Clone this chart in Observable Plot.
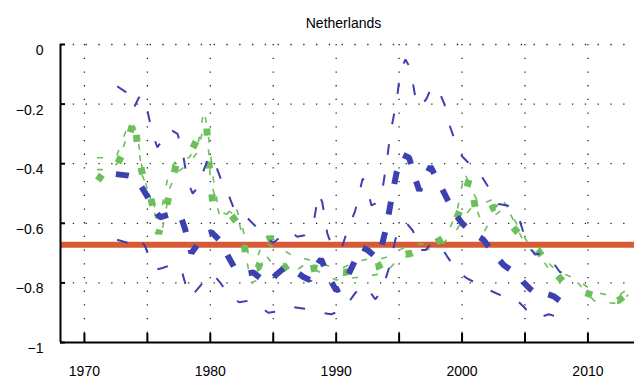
<!DOCTYPE html>
<html>
<head>
<meta charset="utf-8">
<script src="https://cdn.jsdelivr.net/npm/d3@7"></script>
<script src="https://cdn.jsdelivr.net/npm/@observablehq/plot@0.6"></script>
<style>
  html, body { margin: 0; padding: 0; background: #fff; }
  #chart svg { display: block; }
</style>
</head>
<body>
<div id="chart"></div>
<script>
// Axis set-up
const xDomain = [1968.1, 2013.7];
const yDomain = [-1, 0];
const xTicks = [1970, 1975, 1980, 1985, 1990, 1995, 2000, 2005, 2010];
const xLabelTicks = [1970, 1980, 1990, 2000, 2010];
const xTickLabels = ["1970", "1980", "1990", "2000", "2010"];
const yTicks = [-1, -0.8, -0.6, -0.4, -0.2, 0];
const yTickLabels = ["\u22121", "\u22120.8", "\u22120.6", "\u22120.4", "\u22120.2", "0"];
const yGrid = [-0.8, -0.6, -0.4, -0.2, 0];
const title = "Netherlands";

// Reference level
const refLevel = -0.672;

// Blue estimate: central path and its upper / lower band
const blueMidYears = [1972.5, 1973.5, 1974.0, 1974.5, 1975.0, 1975.5, 1976.0, 1976.8, 1977.6, 1978.0, 1978.5, 1979.0, 1979.6, 1980.1, 1980.8, 1981.4, 1982.0, 1982.6, 1983.4, 1984.0, 1984.6, 1985.3, 1986.0, 1986.7, 1987.4, 1987.9, 1988.4, 1988.8, 1989.4, 1990.0, 1990.5, 1991.0, 1991.5, 1992.0, 1992.5, 1993.2, 1993.6, 1994.0, 1994.4, 1994.8, 1995.3, 1995.8, 1996.2, 1996.6, 1997.0, 1997.5, 1998.0, 1998.6, 1999.3, 2000.0, 2000.8, 2001.7, 2002.5, 2003.3, 2004.0, 2004.7, 2005.4, 2006.0, 2006.6, 2007.3, 2008.2];
const blueMid = [-0.435, -0.44, -0.445, -0.475, -0.51, -0.55, -0.58, -0.57, -0.57, -0.62, -0.70, -0.67, -0.635, -0.63, -0.66, -0.71, -0.755, -0.77, -0.765, -0.785, -0.80, -0.77, -0.745, -0.76, -0.78, -0.79, -0.745, -0.72, -0.78, -0.825, -0.815, -0.77, -0.725, -0.68, -0.69, -0.715, -0.68, -0.61, -0.515, -0.43, -0.37, -0.38, -0.44, -0.49, -0.45, -0.41, -0.45, -0.50, -0.56, -0.60, -0.63, -0.655, -0.70, -0.74, -0.76, -0.79, -0.82, -0.84, -0.835, -0.845, -0.875];

const blueHiYears = [1972.6, 1973.3, 1973.9, 1974.3, 1974.6, 1975.0, 1975.4, 1975.8, 1976.2, 1976.5, 1977.0, 1977.4, 1977.8, 1978.2, 1978.6, 1979.0, 1979.4, 1979.9, 1980.3, 1981.0, 1981.5, 1982.0, 1983.0, 1983.6, 1984.3, 1985.0, 1985.6, 1986.3, 1986.9, 1987.5, 1988.2, 1988.6, 1988.9, 1989.3, 1989.8, 1990.5, 1991.0, 1991.5, 1992.1, 1992.4, 1992.8, 1993.3, 1993.7, 1994.0, 1994.3, 1994.8, 1995.1, 1995.5, 1995.9, 1996.3, 1996.7, 1997.2, 1997.6, 1998.2, 1998.6, 1999.0, 1999.5, 2000.0, 2000.8, 2001.6, 2002.4, 2002.9, 2003.6, 2004.3, 2004.8, 2005.2, 2005.8, 2006.5, 2007.2, 2007.8, 2008.2];
const blueHi = [-0.14, -0.16, -0.215, -0.18, -0.17, -0.22, -0.30, -0.345, -0.32, -0.29, -0.29, -0.30, -0.36, -0.46, -0.50, -0.48, -0.43, -0.375, -0.39, -0.47, -0.51, -0.565, -0.585, -0.61, -0.645, -0.665, -0.645, -0.625, -0.645, -0.64, -0.60, -0.50, -0.53, -0.635, -0.69, -0.675, -0.61, -0.56, -0.45, -0.47, -0.54, -0.53, -0.48, -0.40, -0.30, -0.19, -0.09, -0.05, -0.08, -0.18, -0.21, -0.18, -0.14, -0.16, -0.20, -0.27, -0.33, -0.375, -0.41, -0.445, -0.50, -0.535, -0.54, -0.555, -0.62, -0.67, -0.705, -0.70, -0.73, -0.765, -0.755];

const blueLoYears = [1972.6, 1973.4, 1974.0, 1974.4, 1974.8, 1975.3, 1975.7, 1976.2, 1977.2, 1977.8, 1978.3, 1978.8, 1979.3, 1979.8, 1980.3, 1980.8, 1981.6, 1982.3, 1983.0, 1983.8, 1984.6, 1985.4, 1986.4, 1987.2, 1988.0, 1988.8, 1989.6, 1990.3, 1990.9, 1991.5, 1992.0, 1992.6, 1993.1, 1993.6, 1994.2, 1994.7, 1995.1, 1995.6, 1996.1, 1996.6, 1997.1, 1997.6, 1998.2, 1998.8, 1999.6, 2000.4, 2001.3, 2002.2, 2003.0, 2003.8, 2004.4, 2004.9, 2005.5, 2006.2, 2006.9, 2007.6, 2008.3];
const blueLo = [-0.655, -0.665, -0.675, -0.655, -0.675, -0.73, -0.755, -0.75, -0.735, -0.77, -0.845, -0.83, -0.805, -0.775, -0.775, -0.80, -0.845, -0.865, -0.86, -0.875, -0.90, -0.895, -0.88, -0.885, -0.89, -0.90, -0.905, -0.895, -0.87, -0.835, -0.81, -0.825, -0.855, -0.83, -0.75, -0.655, -0.61, -0.60, -0.625, -0.69, -0.69, -0.665, -0.67, -0.71, -0.76, -0.785, -0.805, -0.825, -0.84, -0.845, -0.86, -0.88, -0.91, -0.915, -0.905, -0.915, -0.925];

// Green estimate: central path and its upper / lower band
const greenMidYears = [1971.0, 1971.7, 1972.4, 1973.1, 1973.6, 1974.0, 1974.3, 1974.7, 1975.2, 1975.9, 1976.6, 1977.3, 1978.2, 1979.0, 1979.7, 1979.9, 1980.2, 1981.1, 1981.8, 1982.5, 1983.0, 1983.8, 1984.7, 1985.5, 1986.3, 1987.3, 1988.3, 1989.5, 1990.6, 1992.0, 1993.3, 1994.8, 1996.0, 1997.3, 1998.7, 1999.4, 2000.0, 2000.6, 2001.2, 2001.9, 2002.6, 2003.8, 2004.9, 2006.0, 2007.0, 2008.0, 2008.8, 2009.6, 2011.0, 2012.4, 2013.3];
const greenMid = [-0.44, -0.46, -0.42, -0.36, -0.30, -0.245, -0.38, -0.45, -0.50, -0.635, -0.53, -0.40, -0.38, -0.315, -0.265, -0.40, -0.535, -0.545, -0.58, -0.62, -0.755, -0.75, -0.645, -0.72, -0.77, -0.76, -0.75, -0.76, -0.765, -0.755, -0.745, -0.71, -0.70, -0.68, -0.645, -0.60, -0.54, -0.445, -0.58, -0.56, -0.545, -0.60, -0.655, -0.69, -0.745, -0.795, -0.81, -0.83, -0.85, -0.86, -0.83];

const greenHiYears = [1971.0, 1972.0, 1972.6, 1973.3, 1973.8, 1974.2, 1974.6, 1975.2, 1975.7, 1976.1, 1976.7, 1977.4, 1978.3, 1979.0, 1979.5, 1979.8, 1980.0, 1980.3, 1980.7, 1981.3, 1982.0, 1982.6, 1983.0, 1983.7, 1984.2, 1985.0, 1985.8, 1986.6, 1987.6, 1988.5, 1989.5, 1990.5, 1991.5, 1992.5, 1993.5, 1994.3, 1995.0, 1996.0, 1997.0, 1998.2, 1999.0, 1999.6, 2000.2, 2000.8, 2001.4, 2002.4, 2003.2, 2003.8, 2004.7, 2005.3, 2006.0, 2006.8, 2007.5, 2008.7, 2009.5, 2010.5, 2011.5, 2012.5, 2013.2];
const greenHi = [-0.38, -0.38, -0.37, -0.29, -0.26, -0.30, -0.42, -0.52, -0.55, -0.56, -0.43, -0.38, -0.38, -0.34, -0.22, -0.29, -0.36, -0.47, -0.56, -0.57, -0.54, -0.62, -0.70, -0.72, -0.66, -0.68, -0.69, -0.71, -0.72, -0.73, -0.745, -0.75, -0.73, -0.72, -0.72, -0.71, -0.69, -0.67, -0.67, -0.66, -0.62, -0.56, -0.43, -0.49, -0.54, -0.52, -0.52, -0.56, -0.63, -0.67, -0.67, -0.73, -0.76, -0.78, -0.80, -0.83, -0.84, -0.84, -0.82];

const greenLoYears = [1971.0, 1972.0, 1972.6, 1973.3, 1974.0, 1974.3, 1974.6, 1975.0, 1975.8, 1976.2, 1976.8, 1977.3, 1978.3, 1979.0, 1979.5, 1979.8, 1980.0, 1980.3, 1980.8, 1981.5, 1982.2, 1982.7, 1983.2, 1983.8, 1984.3, 1985.0, 1985.8, 1986.6, 1987.6, 1988.9, 1990.0, 1991.0, 1992.0, 1992.8, 1993.5, 1994.3, 1995.0, 1996.0, 1997.0, 1998.2, 1999.6, 2000.3, 2001.0, 2001.8, 2002.4, 2003.3, 2003.8, 2004.7, 2005.3, 2006.2, 2007.0, 2007.5, 2008.5, 2009.2, 2010.5, 2011.3, 2012.5, 2013.2];
const greenLo = [-0.42, -0.42, -0.40, -0.32, -0.30, -0.34, -0.44, -0.48, -0.60, -0.62, -0.48, -0.43, -0.40, -0.36, -0.27, -0.31, -0.45, -0.50, -0.585, -0.56, -0.58, -0.67, -0.80, -0.79, -0.70, -0.74, -0.735, -0.765, -0.735, -0.77, -0.79, -0.785, -0.78, -0.775, -0.77, -0.75, -0.715, -0.71, -0.69, -0.68, -0.62, -0.57, -0.535, -0.625, -0.58, -0.55, -0.565, -0.645, -0.685, -0.71, -0.76, -0.775, -0.79, -0.80, -0.86, -0.865, -0.87, -0.84];

const blue = "#3d41b0";
const green = "#6cc05c";
const orange = "#d65a34";

const frameW = 642 - 60 - 8;
const frameH = 383 - 44 - 41;

// square-ended dashes for every series
const lineStyle = {strokeLinecap: "butt", strokeLinejoin: "miter"};

const chart = Plot.plot({
  width: 642,
  height: 383,
  marginLeft: 60,
  marginRight: 8,
  marginTop: 44,
  marginBottom: 41,
  x: {domain: xDomain},
  y: {domain: yDomain},
  style: {fontFamily: "'Liberation Sans', Arial, sans-serif", fontSize: "14px", background: "#fff", color: "#000"},
  marks: [
    // dotted grid
    Plot.ruleY(yGrid, {stroke: "#000", strokeWidth: 1.3, strokeDasharray: "1.3,11.5", strokeOpacity: 0.85}),
    Plot.ruleX(xTicks, {stroke: "#000", strokeWidth: 1.3, strokeDasharray: "1.3,12.4", strokeOpacity: 0.85}),
    // reference level
    Plot.ruleY([refLevel], {stroke: orange, strokeWidth: 6}),
    // green band and path
    Plot.line(greenHi, {x: greenHiYears, y: greenHi, stroke: green, strokeWidth: 1.6, strokeDasharray: "6,14", ...lineStyle}),
    Plot.line(greenLo, {x: greenLoYears, y: greenLo, stroke: green, strokeWidth: 1.6, strokeDasharray: "6,14", ...lineStyle}),
    Plot.line(greenMid, {x: greenMidYears, y: greenMid, stroke: green, strokeWidth: 7, strokeDasharray: "7,26", ...lineStyle}),
    // blue band and path
    Plot.line(blueHi, {x: blueHiYears, y: blueHi, stroke: blue, strokeWidth: 2, strokeDasharray: "11,20", ...lineStyle}),
    Plot.line(blueLo, {x: blueLoYears, y: blueLo, stroke: blue, strokeWidth: 2, strokeDasharray: "11,20", ...lineStyle}),
    Plot.line(blueMid, {x: blueMidYears, y: blueMid, stroke: blue, strokeWidth: 6, strokeDasharray: "13,18", ...lineStyle}),
    // axes
    Plot.ruleX([xDomain[0]], {stroke: "#000", strokeWidth: 2}),
    Plot.ruleY([yDomain[0]], {stroke: "#000", strokeWidth: 2}),
    Plot.tickX(xTicks, {x: (d) => d, stroke: "#000", strokeWidth: 2, insetTop: frameH - 9}),
    Plot.tickY(yTicks, {y: (d) => d, stroke: "#000", strokeWidth: 2, insetRight: frameW - 5}),
    Plot.axisY(yTicks, {tickSize: 0, tickPadding: 17, dy: 6, fontSize: 14,
      tickFormat: (d) => yTickLabels[yTicks.indexOf(d)]}),
    Plot.axisX(xLabelTicks, {tickSize: 0, tickPadding: 24, fontSize: 14,
      tickFormat: (d) => xTickLabels[xLabelTicks.indexOf(d)]}),
    Plot.text([title], {frameAnchor: "top", dy: -26, dx: -4, fontSize: 14, letterSpacing: "0.4px", text: (d) => d, fill: "#000"})
  ]
});

document.getElementById("chart").append(chart);
</script>
</body>
</html>
